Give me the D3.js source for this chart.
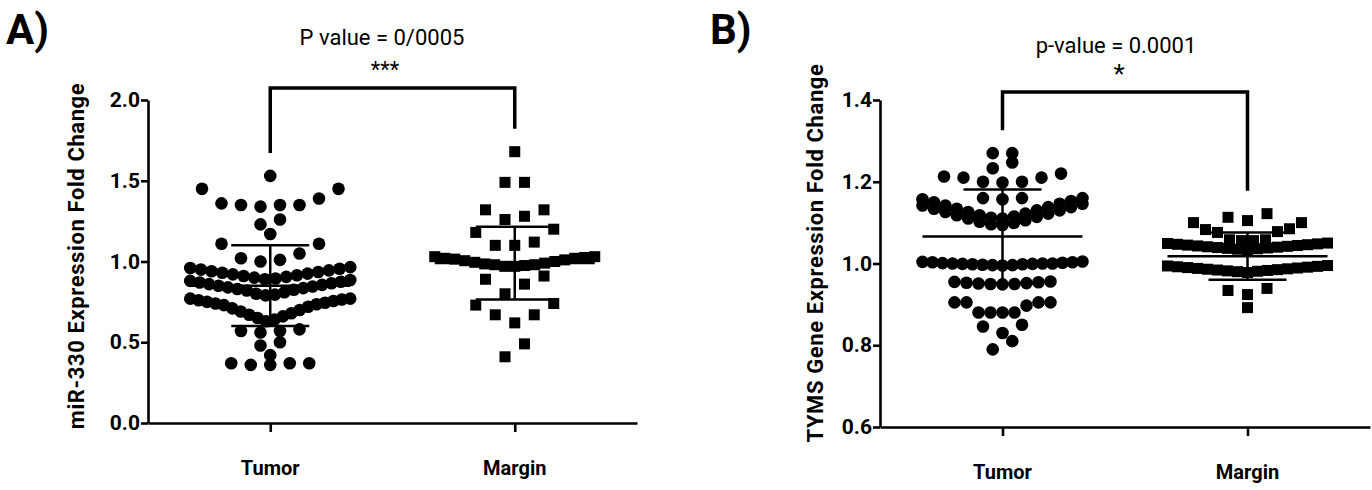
<!DOCTYPE html>
<html>
<head>
<meta charset="utf-8">
<script src="https://cdn.jsdelivr.net/npm/d3@7"></script>
<style>
  body { margin: 0; background: #fff; }
  text { font-family: Roboto, "DejaVu Sans", sans-serif; fill: #000; }
</style>
</head>
<body>
<script>
const categories = ["Tumor", "Margin"];

// panel A : miR-330
const ticksA = [0.0, 0.5, 1.0, 1.5, 2.0];
const tumorA = [
  [1.53],
  [1.45, 1.45, 1.39, 1.35, 1.35, 1.36, 1.35, 1.34],
  [1.26, 1.23],
  [1.17],
  [1.11, 1.11, 1.05, 1.02, 1.01, 1.0],
  [0.965, 0.96, 0.955, 0.95, 0.945, 0.94, 0.935, 0.93, 0.925, 0.92, 0.915, 0.91, 0.905, 0.9, 0.895, 0.89],
  [0.885, 0.88, 0.875, 0.87, 0.865, 0.86, 0.855, 0.85, 0.845, 0.84, 0.835, 0.83, 0.825, 0.82, 0.81, 0.8, 0.795, 0.79],
  [0.77, 0.77, 0.765, 0.76, 0.755, 0.75, 0.745, 0.74, 0.735, 0.73, 0.72, 0.71, 0.7, 0.69, 0.68, 0.67, 0.66, 0.65, 0.64, 0.63],
  [0.58, 0.57, 0.56, 0.57],
  [0.5, 0.48],
  [0.42],
  [0.37, 0.37, 0.36, 0.37, 0.36]
];
const marginA = [
  [1.68],
  [1.49, 1.49],
  [1.32, 1.32, 1.28, 1.26],
  [1.2, 1.18, 1.12, 1.1, 1.1],
  [1.03, 1.03, 1.025, 1.02, 1.02, 1.015, 1.01, 1.005, 1.0, 0.995, 0.99, 0.985, 0.98, 0.98, 0.975, 0.97, 0.97],
  [0.91, 0.89, 0.86, 0.8],
  [0.74, 0.73, 0.67, 0.67, 0.62],
  [0.49, 0.41]
];
const meanA = [0.85, 0.99];
const sdA = [0.25, 0.225];

// panel B : TYMS
const ticksB = [0.6, 0.8, 1.0, 1.2, 1.4];
const tumorB = [
  [1.27, 1.27],
  [1.247, 1.233],
  [1.22, 1.213, 1.21, 1.21, 1.2, 1.2, 1.198],
  [1.16, 1.157, 1.16],
  [1.16, 1.157, 1.153, 1.15, 1.146, 1.142, 1.138, 1.134, 1.13, 1.126, 1.122, 1.118, 1.115, 1.112, 1.11],
  [1.146, 1.142, 1.138, 1.134, 1.13, 1.126, 1.122, 1.118, 1.114, 1.11, 1.106, 1.102, 1.099, 1.096, 1.094],
  [1.005, 1.004, 1.003, 1.003, 1.002, 1.001, 1.0, 1.0, 1.0, 0.999, 0.999, 0.998, 0.998, 0.997, 0.996, 0.996, 0.995],
  [0.956, 0.955, 0.954, 0.953, 0.952, 0.951, 0.95, 0.95, 0.949],
  [0.905, 0.905, 0.905, 0.905, 0.897, 0.88, 0.88, 0.88, 0.88],
  [0.85, 0.846, 0.83],
  [0.81, 0.79]
];
const marginB = [
  [1.122, 1.113, 1.105],
  [1.1, 1.1, 1.085, 1.083, 1.078, 1.076, 1.058, 1.058, 1.056, 1.056],
  [1.05, 1.049, 1.048, 1.047, 1.046, 1.045, 1.044, 1.043, 1.042, 1.041, 1.04, 1.039, 1.038, 1.037, 1.036, 1.035, 1.034],
  [0.995, 0.994, 0.993, 0.992, 0.991, 0.99, 0.989, 0.988, 0.987, 0.986, 0.985, 0.984, 0.983, 0.982, 0.981, 0.98, 0.978],
  [0.939, 0.934, 0.924],
  [0.892]
];
const meanB = [1.066, 1.018];
const sdB = [0.115, 0.058];

const width = 1372, height = 490;

const svg = d3.select("body").append("svg")
    .attr("width", width)
    .attr("height", height);

// spread each row sideways, lowest values in the middle, like a prism scatter
let layout = (rows) => {
  let out = [];
  rows.forEach(row => {
    let n = row.length;
    let s = n <= 8 ? 19.5 : Math.min(12, 160 / (n - 1));
    let slots = d3.range(n).map(i => (i - (n - 1) / 2) * s)
        .sort((a, b) => Math.abs(a) - Math.abs(b) || a - b);
    row.slice().sort(d3.ascending).forEach((v, i) => out.push({ v: v, dx: slots[i] }));
  });
  return out;
};

const drawPanel = (o) => {
  const g = svg.append("g");

  const x = d3.scalePoint().domain(categories).range([o.left, o.right]).padding(0.5);
  const y = d3.scaleLinear().domain(o.domain).range([o.bottom, o.top]);

  // points
  const tum = layout(o.groups[0]);
  const mar = layout(o.groups[1]);

  g.append("g").selectAll("circle")
      .data(tum)
      .join("circle")
      .attr("cx", d => x(categories[0]) + d.dx)
      .attr("cy", d => y(d.v))
      .attr("r", 6.3)
      .attr("fill", "#000");

  const sq = 11;
  g.append("g").selectAll("rect")
      .data(mar)
      .join("rect")
      .attr("x", d => x(categories[1]) + d.dx - sq / 2)
      .attr("y", d => y(d.v) - sq / 2)
      .attr("width", sq)
      .attr("height", sq)
      .attr("fill", "#000");

  // mean + SD
  categories.forEach((c, i) => {
    const cx = x(c);
    const eb = g.append("g").attr("stroke", "#000").attr("stroke-width", 2.5);
    eb.append("line").attr("x1", cx - 80).attr("x2", cx + 80)
        .attr("y1", y(o.means[i])).attr("y2", y(o.means[i]));
    eb.append("line").attr("x1", cx).attr("x2", cx)
        .attr("y1", y(o.means[i] - o.sds[i])).attr("y2", y(o.means[i] + o.sds[i]));
    [-1, 1].forEach(k => {
      eb.append("line").attr("x1", cx - 39).attr("x2", cx + 39)
          .attr("y1", y(o.means[i] + k * o.sds[i])).attr("y2", y(o.means[i] + k * o.sds[i]));
    });
  });

  // axes
  const yAxis = d3.axisLeft(y)
      .tickValues(o.ticks)
      .tickFormat(d3.format(".1f"))
      .tickSize(7)
      .tickSizeOuter(0)
      .tickPadding(1);
  const ya = g.append("g").attr("transform", "translate(" + o.left + ",0)").call(yAxis);

  const xAxis = d3.axisBottom(x).tickSize(9).tickSizeOuter(0).tickFormat("");
  const xa = g.append("g").attr("transform", "translate(0," + o.bottom + ")").call(xAxis);

  [ya, xa].forEach(a => {
    a.selectAll("path, line").attr("stroke", "#000").attr("stroke-width", 2.6);
  });
  ya.selectAll("text")
      .attr("font-size", 21)
      .attr("font-weight", "bold")
      .attr("fill", "#000")
      .attr("font-family", "Roboto, sans-serif");

  g.append("g").selectAll("text")
      .data(categories)
      .join("text")
      .attr("x", d => x(d))
      .attr("y", o.bottom + 52)
      .attr("text-anchor", "middle")
      .attr("font-size", 20)
      .attr("font-weight", "bold")
      .text(d => d);

  // y title
  g.append("text")
      .attr("transform", "translate(" + o.titleX + "," + o.titleY + ") rotate(-90)")
      .attr("text-anchor", "middle")
      .attr("font-size", 22)
      .attr("letter-spacing", 0.6)
      .attr("font-weight", "bold")
      .text(o.yTitle);

  // significance bracket
  const maxT = d3.max(o.groups[0].flat());
  const maxM = d3.max(o.groups[1].flat());
  const xl = x(categories[0]), xr = x(categories[1]);
  g.append("path")
      .attr("d", d3.line()([[xl, y(maxT) - 23], [xl, o.bracketTop], [xr, o.bracketTop], [xr, y(maxM) - 23]]))
      .attr("fill", "none")
      .attr("stroke", "#000")
      .attr("stroke-width", 3.5);

  g.append("text")
      .attr("x", o.pX)
      .attr("y", o.pY)
      .attr("text-anchor", "middle")
      .attr("font-size", 22)
      .text(o.pText);
  g.append("text")
      .attr("x", o.pX + 3)
      .attr("y", o.pY + o.starDy)
      .attr("text-anchor", "middle")
      .attr("font-size", o.starSize)
      .text(o.stars);

  g.append("text")
      .attr("x", o.tagX)
      .attr("y", 44)
      .attr("font-size", 42)
      .attr("font-weight", "bold")
      .text(o.tag);
};

drawPanel({
  left: 148, right: 637, top: 100, bottom: 423,
  domain: [0, 2], ticks: ticksA,
  groups: [tumorA, marginA], means: meanA, sds: sdA,
  yTitle: "miR-330 Expression Fold Change", titleX: 84, titleY: 256,
  bracketTop: 88,
  pText: "P value = 0/0005", pX: 382, pY: 45, stars: "***", starDy: 32, starSize: 22,
  tag: "A)", tagX: 6
});

drawPanel({
  left: 880, right: 1370, top: 100, bottom: 427,
  domain: [0.6, 1.4], ticks: ticksB,
  groups: [tumorB, marginB], means: meanB, sds: sdB,
  yTitle: "TYMS Gene Expression Fold Change", titleX: 823, titleY: 253,
  bracketTop: 92,
  pText: "p-value = 0.0001", pX: 1116, pY: 53, stars: "*", starDy: 30, starSize: 26,
  tag: "B)", tagX: 710
});
</script>
</body>
</html>
